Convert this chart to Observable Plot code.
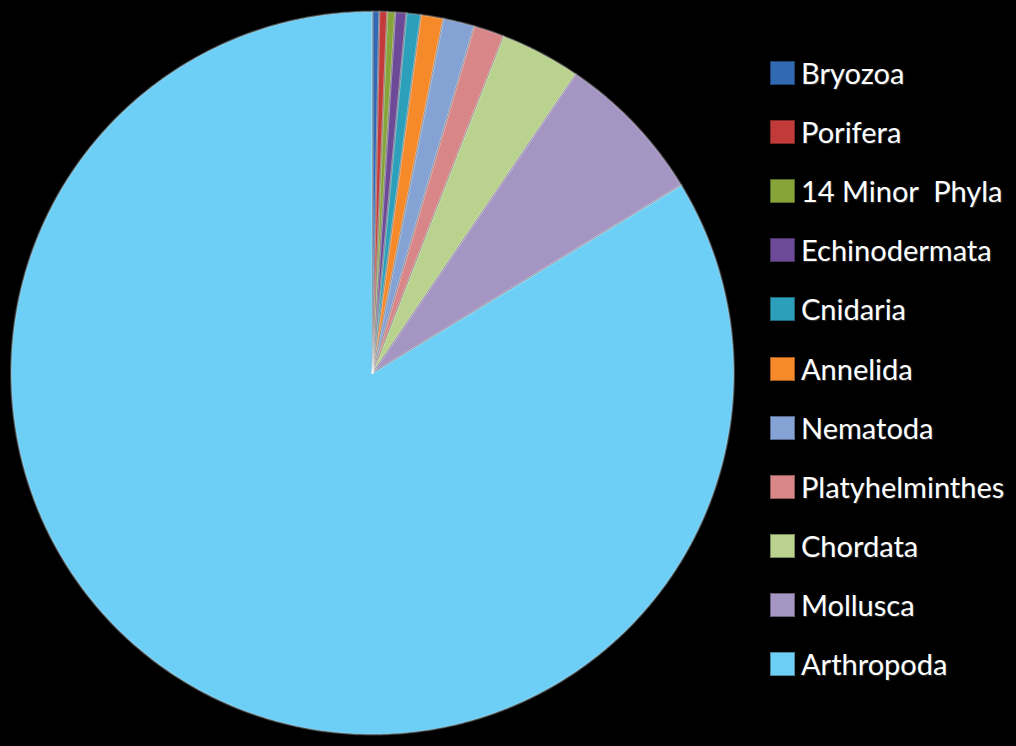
<!DOCTYPE html>
<html><head><meta charset="utf-8">
<script src="https://cdn.jsdelivr.net/npm/d3@7"></script>
<script src="https://cdn.jsdelivr.net/npm/@observablehq/plot@0.6"></script>
<style>
html,body{margin:0;padding:0;background:#000;}
#wrap{position:relative;width:1016px;height:746px;background:#000;overflow:hidden;}
#chart{position:absolute;left:0;top:0;}
#legend{position:absolute;left:770px;top:0;}
.item{position:absolute;left:0;display:flex;align-items:center;white-space:pre;height:30px;}
.sw{width:25px;height:24px;box-sizing:border-box;border:1px solid rgba(0,0,0,0.35);}
.lb{margin-left:6px;color:#fff;font-family:Lato,"Open Sans",sans-serif;font-size:29px;line-height:30px;white-space:pre;text-shadow:1px 1px 1px rgba(90,90,90,0.6);}
</style>
</head><body>
<div id="wrap"><div id="chart"></div><div id="legend"></div></div>
<script>
// Data (percent share of described species), clockwise from 12 o'clock
const categories = ["Bryozoa","Porifera","14 Minor  Phyla","Echinodermata","Cnidaria","Annelida","Nematoda","Platyhelminthes","Chordata","Mollusca","Arthropoda"];
const shares = [0.3, 0.35, 0.35, 0.5, 0.64, 1.0, 1.4, 1.36, 3.6, 6.8, 83.7];
const colors = ["#3169B2","#C23B3A","#86A43A","#6D4A97","#2C9FBA","#F68A2B","#85A2D4","#D98688","#B9D38F","#A595C3","#6DCFF6"];

const total = d3.sum(shares);
const angles = d3.cumsum([0, ...shares]).map(v => v / total * 2 * Math.PI);
const features = categories.map((name, i) => {
  const a0 = angles[i], a1 = angles[i + 1];
  const n = Math.max(2, Math.ceil((a1 - a0) / (Math.PI / 360)));
  const ring = [[0, 0]];
  for (let k = 0; k <= n; ++k) {
    const a = a0 + (a1 - a0) * k / n;
    ring.push([Math.sin(a), Math.cos(a)]);
  }
  ring.push([0, 0]);
  return {type: "Feature", properties: {name}, geometry: {type: "Polygon", coordinates: [ring]}};
});
const collection = {type: "FeatureCollection", features};

const chart = Plot.plot({
  width: 745,
  height: 746,
  marginTop: 11,
  marginBottom: 12,
  marginLeft: 10.5,
  marginRight: 11.5,
  style: {background: "#000"},
  projection: {type: "reflect-y", domain: collection},
  color: {domain: categories, range: colors},
  marks: [
    Plot.geo(features, {fill: d => d.properties.name, stroke: "#1a1a1a", strokeOpacity: 0.6, strokeWidth: 0.8}),
    Plot.geo(features, {fill: "none", stroke: "#ffffff", strokeOpacity: 0.25, strokeWidth: 2, strokeLinejoin: "round"})
  ]
});
document.getElementById("chart").appendChild(chart);

const color = chart.scale("color");
const legend = document.getElementById("legend");
categories.forEach((c, i) => {
  const item = document.createElement("div");
  item.className = "item";
  item.style.top = (58 + i * 59.1) + "px";
  const sw = document.createElement("div");
  sw.className = "sw";
  sw.style.background = color.apply(c);
  const lb = document.createElement("span");
  lb.className = "lb";
  lb.textContent = c;
  item.appendChild(sw); item.appendChild(lb);
  legend.appendChild(item);
});
</script>
</body></html>
